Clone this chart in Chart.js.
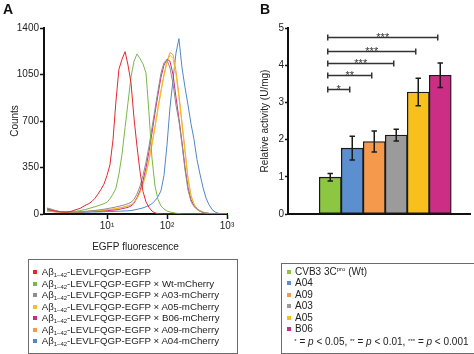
<!DOCTYPE html>
<html><head><meta charset="utf-8">
<script src="https://cdn.jsdelivr.net/npm/chart.js@4.4.1/dist/chart.umd.min.js"></script>
<style>
html,body{margin:0;padding:0;background:#fff;}
body{width:474px;height:354px;position:relative;overflow:hidden;font-family:"Liberation Sans",Arial,Helvetica,sans-serif;color:#222;}
canvas{position:absolute;top:0;}
#chartA{left:0;}
#chartB{left:240px;}
.panel{position:absolute;top:1px;font-size:14px;font-weight:bold;line-height:16px;color:#111;}
.legend{position:absolute;border:1px solid #6b6b6b;box-sizing:border-box;font-size:10px;}
#legendA{font-size:9.7px;}
.row{position:absolute;white-space:nowrap;line-height:12px;height:12px;left:0;}
.sw{position:absolute;top:4px;width:4px;height:4px;}
.txt{position:absolute;top:0;}
.sub{font-size:6px;position:relative;top:2px;}
.sup{font-size:6px;position:relative;top:-4px;}
</style></head><body>
<canvas id="chartA" width="240" height="260"></canvas>
<canvas id="chartB" width="234" height="260"></canvas>
<div class="panel" style="left:3px">A</div>
<div class="panel" style="left:260px">B</div>
<div id="legendA" class="legend" style="left:28px;top:259px;width:210px;height:95px"></div>
<div id="legendB" class="legend" style="left:281px;top:263px;width:194px;height:91px"></div>
<script>
// ---------- Panel A: flow cytometry histograms ----------
const fluorescence = [1, 1.12, 1.26, 1.41, 1.58, 1.78, 2, 2.24, 2.51, 2.82,
  3.16, 3.55, 3.98, 4.47, 5.01, 5.62, 6.31, 7.08, 7.94, 8.91,
  10, 11.2, 12.6, 14.1, 15.8, 17.8, 20, 22.4, 25.1, 28.2,
  31.6, 35.5, 39.8, 44.7, 50.1, 56.2, 63.1, 70.8, 79.4, 89.1,
  100, 112, 126, 141, 158, 178, 200, 224, 251, 282,
  316, 355, 398, 447, 501, 562, 631, 708, 794, 891, 1000];

const seriesSuffix = ['', ' × Wt-mCherry', ' × A03-mCherry', ' × A05-mCherry', ' × B06-mCherry', ' × A09-mCherry', ' × A04-mCherry'];

const countsEGFP = [38,30,25,22,18,15,14,15,20,28, 35,42,55,68,78,95,118,150,185,225,
  290,370,560,850,1090,1165,1222,1120,990,720, 510,320,170,90,50,22,8,3,1,0,
  0,0,0,0,0,0,0,0,0,0, 0,0,0,0,0,0,0,0,0,0,0];
const countsWt = [30,25,22,20,18,17,16,17,18,20, 22,25,30,35,42,48,55,62,70,78,
  88,115,150,195,300,450,650,840,1030,1150, 1205,1170,1130,1060,760,420,210,110,60,38,
  22,15,10,6,3,1,0,0,0,0, 0,0,0,0,0,0,0,0,0,0,0];
const countsA03 = [45,40,32,25,20,17,15,14,14,15, 16,17,18,20,22,25,27,30,33,36,
  40,44,48,53,58,64,70,78,88,110, 150,210,290,390,510,650,790,930,1060,1140,
  1160,1100,980,820,700,520,330,180,95,55, 35,20,12,8,5,3,1,0,0,0,0];
const countsA05 = [22,20,18,16,15,14,13,13,14,15, 16,17,18,19,20,22,24,26,28,30,
  32,35,38,41,44,48,53,60,68,85, 115,160,220,300,400,520,650,790,920,1040,
  1140,1195,1170,1050,880,670,460,260,135,72, 40,23,13,7,4,2,0,0,0,0,0];
const countsB06 = [22,20,18,16,15,14,13,13,13,14, 15,15,16,17,18,19,20,21,22,24,
  25,27,29,31,35,40,45,50,60,80, 120,175,250,350,470,610,760,900,1030,1120,
  1165,1150,1050,880,720,540,350,200,110,62, 38,22,12,7,4,2,1,0,0,0,0];
const countsA09 = [25,22,20,18,16,15,14,14,15,16, 17,18,19,20,21,22,23,24,26,28,
  30,33,36,39,45,50,56,62,70,90, 125,170,230,310,410,530,660,800,930,1050,
  1150,1215,1200,1080,900,690,480,270,140,75, 42,25,14,8,4,2,1,0,0,0,0];
const countsA04 = [40,35,28,22,18,15,13,12,12,12, 12,13,13,14,14,15,15,16,16,17,
  18,18,19,20,21,22,23,24,26,30, 35,40,46,55,65,78,100,130,175,290,
  520,800,1010,1210,1320,1100,950,820,680,560, 410,300,200,120,70,35,15,6,2,0,0];

const histSeries = [countsEGFP, countsWt, countsA03, countsA05, countsB06, countsA09, countsA04];
const histColors = ['#e8262c', '#7ab648', '#8e8e8e', '#f4c01e', '#cf2a7f', '#f39a4c', '#4f88c6'];
const countTicks = [0, 350, 700, 1050, 1400];
const fluorTicks = [10, 100, 1000];
const fluorTickLabels = ['10¹', '10²', '10³'];

// ---------- Panel B: relative activity ----------
const categories = ['CVB3 3Cpro (Wt)', 'A04', 'A09', 'A03', 'A05', 'B06'];
const activity = [0.99, 1.77, 1.95, 2.12, 3.28, 3.73];
const activityErr = [0.10, 0.32, 0.28, 0.16, 0.37, 0.33];
const barColors = ['#8dc641', '#5b8fcf', '#f59a4d', '#9b9b9b', '#f8c01c', '#cc2d85'];
const activityTicks = [0, 1, 2, 3, 4, 5];
const sigTarget = [1, 2, 3, 4, 5];
const sigHeight = [3.37, 3.73, 4.06, 4.39, 4.76];
const sigLabel = ['*', '**', '***', '***', '***'];

Chart.defaults.font.family = '"Liberation Sans", Arial, Helvetica, sans-serif';
Chart.defaults.font.size = 10;
Chart.defaults.color = '#222';

const axisGrid = (len) => ({drawOnChartArea:false, drawTicks:true, tickLength:len, tickColor:'#111', tickWidth:1.5});
const axisBorder = {display:true, color:'#111', width:2};

new Chart(document.getElementById('chartA'), {
  type: 'line',
  data: {
    datasets: histSeries.map((s, k) => ({
      label: 'Aβ1–42-LEVLFQGP-EGFP' + seriesSuffix[k],
      data: fluorescence.map((f, i) => ({x: f, y: s[i]})),
      borderColor: histColors[k], borderWidth: 1, pointRadius: 0, tension: 0, fill: false
    }))
  },
  options: {
    responsive: false, animation: false, devicePixelRatio: 1,
    layout: {padding: {top: 28, right: 13, left: 0, bottom: 0}},
    plugins: {legend: {display: false}, tooltip: {enabled: false}},
    scales: {
      x: {
        type: 'logarithmic', min: 0.891, max: 1000,
        afterBuildTicks: s => { s.ticks = fluorTicks.map(v => ({value: v})); },
        afterFit: s => { s.height = 46; },
        ticks: {callback: (v, i) => fluorTickLabels[i], padding: 1, maxRotation: 0, autoSkip: false},
        grid: axisGrid(5), border: axisBorder,
        title: {display: true, text: 'EGFP fluorescence', padding: {top: 0, bottom: 7}}
      },
      y: {
        min: 0, max: 1400,
        afterBuildTicks: s => { s.ticks = countTicks.map(v => ({value: v})); },
        afterFit: s => { s.width = 44; },
        ticks: {callback: v => String(v), padding: 1},
        grid: axisGrid(4), border: axisBorder,
        title: {display: true, text: 'Counts', padding: {top: 9, bottom: 0}}
      }
    }
  }
});

const errorBars = {
  id: 'errorBars',
  afterDatasetsDraw(chart) {
    const ctx = chart.ctx, ys = chart.scales.y;
    const meta = chart.getDatasetMeta(0);
    ctx.save();
    ctx.strokeStyle = '#1a1a1a'; ctx.lineWidth = 1.5;
    meta.data.forEach((bar, i) => {
      const x = bar.x;
      const t = ys.getPixelForValue(activity[i] + activityErr[i]);
      const b = ys.getPixelForValue(activity[i] - activityErr[i]);
      ctx.beginPath();
      ctx.moveTo(x, t); ctx.lineTo(x, b);
      ctx.moveTo(x - 2.7, t); ctx.lineTo(x + 2.7, t);
      ctx.moveTo(x - 2.7, b); ctx.lineTo(x + 2.7, b);
      ctx.stroke();
    });
    ctx.restore();
  }
};

const sigBrackets = {
  id: 'sigBrackets',
  afterDatasetsDraw(chart) {
    const {ctx, scales: {x, y}} = chart;
    ctx.save();
    ctx.strokeStyle = '#333'; ctx.fillStyle = '#333'; ctx.lineWidth = 1.5;
    ctx.font = '11px "Liberation Sans", Arial, sans-serif';
    ctx.textAlign = 'center'; ctx.textBaseline = 'alphabetic';
    sigTarget.forEach((t, k) => {
      const x1 = x.getPixelForValue(0) - 2.5;
      const x2 = x.getPixelForValue(t) - 2.5;
      const yy = Math.round(y.getPixelForValue(sigHeight[k])) + 0.5;
      ctx.beginPath();
      ctx.moveTo(x1, yy); ctx.lineTo(x2, yy);
      ctx.moveTo(x1, yy - 3); ctx.lineTo(x1, yy + 3);
      ctx.moveTo(x2, yy - 3); ctx.lineTo(x2, yy + 3);
      ctx.stroke();
      ctx.fillText(sigLabel[k], (x1 + x2) / 2, yy + 3.8);
    });
    ctx.restore();
  }
};

new Chart(document.getElementById('chartB'), {
  type: 'bar',
  data: {
    datasets: [{
      label: 'Relative activity (U/mg)',
      data: activity.map((v, i) => ({x: i, y: v})),
      backgroundColor: barColors, borderColor: '#1a1a1a', borderWidth: 1.3,
      borderSkipped: false, barPercentage: 1, categoryPercentage: 1
    }]
  },
  options: {
    responsive: false, animation: false, devicePixelRatio: 1,
    layout: {padding: {top: 28, right: 4, left: 0, bottom: 0}},
    plugins: {legend: {display: false}, tooltip: {enabled: false}},
    scales: {
      x: {
        type: 'linear', min: -1.231, max: 5.663,
        afterBuildTicks: s => { s.ticks = categories.map((c, i) => ({value: i})); },
        afterFit: s => { s.height = 46; },
        ticks: {display: false},
        grid: {display: false, drawTicks: false},
        border: axisBorder
      },
      y: {
        min: 0, max: 5,
        afterBuildTicks: s => { s.ticks = activityTicks.map(v => ({value: v})); },
        afterFit: s => { s.width = 48; },
        ticks: {callback: v => String(v), padding: 1},
        grid: axisGrid(3), border: axisBorder,
        title: {display: true, text: 'Relative activity (U/mg)', padding: {top: 19, bottom: 0}}
      }
    }
  },
  plugins: [errorBars, sigBrackets]
});

// ---------- Legends ----------
(function () {
  const la = document.getElementById('legendA');
  seriesSuffix.forEach((suf, k) => {
    const r = document.createElement('div');
    r.className = 'row'; r.style.top = (6 + 11.5 * k) + 'px';
    r.innerHTML = '<span class="sw" style="left:4.3px;background:' + histColors[k] + '"></span>' +
      '<span class="txt" style="left:12.7px">Aβ<span class="sub">1–42</span>-LEVLFQGP-EGFP' + suf + '</span>';
    la.appendChild(r);
  });
  const lb = document.getElementById('legendB');
  categories.forEach((c, k) => {
    const r = document.createElement('div');
    r.className = 'row'; r.style.top = (1.7 + 11.5 * k) + 'px';
    const label = c === 'CVB3 3Cpro (Wt)' ? 'CVB3 3C<span class="sup">pro</span> (Wt)' : c;
    r.innerHTML = '<span class="sw" style="left:4.7px;background:' + barColors[k] + '"></span>' +
      '<span class="txt" style="left:13px">' + label + '</span>';
    lb.appendChild(r);
  });
  const f = document.createElement('div');
  f.className = 'row'; f.style.top = '72.3px';
  f.innerHTML = '<span class="txt" style="left:12.3px">' +
    '<span class="sup" style="top:-2px">*</span> = <i>p</i> &lt; 0.05, <span class="sup" style="top:-2px">**</span> = <i>p</i> &lt; 0.01, <span class="sup" style="top:-2px">***</span> = <i>p</i> &lt; 0.001</span>';
  lb.appendChild(f);
})();
</script>
</body></html>
